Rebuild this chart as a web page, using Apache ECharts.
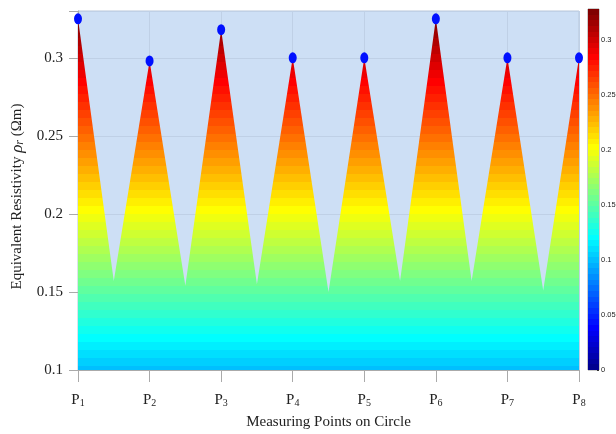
<!DOCTYPE html>
<html>
<head>
<meta charset="utf-8">
<script src="https://cdn.jsdelivr.net/npm/echarts@6/dist/echarts.min.js"></script>
<style>
  html, body { margin: 0; padding: 0; background: #fff; }
  #chart { width: 616px; height: 434px; }
</style>
</head>
<body>
<div id="chart"></div>
<script>
// measuring points P1..P8 (x = 1..8), valleys sit half way between them
var pointNames = ['1', '2', '3', '4', '5', '6', '7', '8'];
var peakValues = [0.325, 0.298, 0.318, 0.300, 0.300, 0.325, 0.300, 0.300];
var valleyValues = [0.157, 0.154, 0.155, 0.150, 0.157, 0.157, 0.151];
var yTicks = [0.1, 0.15, 0.2, 0.25, 0.3];
var colorbarTicks = [0, 0.05, 0.1, 0.15, 0.2, 0.25, 0.3];
var yMin = 0.1, yMax = 0.33;
var cMin = 0, cMax = 0.328;

// MATLAB style jet(64)
function jet(n) {
    var q = Math.ceil(n / 4), u = [], i;
    for (i = 1; i <= q; i++) u.push(i / q);
    for (i = 1; i < q; i++) u.push(1);
    for (i = q; i >= 1; i--) u.push(i / q);
    var g0 = Math.ceil(q / 2) - (n % 4 == 1 ? 1 : 0);
    var out = [];
    for (i = 0; i < n; i++) out.push([0, 0, 0]);
    for (var k = 0; k < u.length; k++) {
        var g = g0 + k + 1, r = g + q, b = g - q;
        if (r >= 1 && r <= n) out[r - 1][0] = u[k];
        if (g >= 1 && g <= n) out[g - 1][1] = u[k];
        if (b >= 1 && b <= n) out[b - 1][2] = u[k];
    }
    return out.map(function (c) {
        return 'rgb(' + Math.round(c[0] * 255) + ',' + Math.round(c[1] * 255) + ',' + Math.round(c[2] * 255) + ')';
    });
}
var jetColors = jet(64);

// line data: peak, valley, peak ...
var lineData = [];
for (var i = 0; i < peakValues.length; i++) {
    lineData.push([i + 1, peakValues[i]]);
    if (i < valleyValues.length) lineData.push([i + 1.5, valleyValues[i]]);
}
var peakData = peakValues.map(function (v, i) { return [i + 1, v]; });

// stepped gradient for the area: offset 0 = highest peak, 1 = axis min
var areaTop = Math.max.apply(null, peakValues);
var areaStops = [];
var step = (cMax - cMin) / jetColors.length;
for (var j = jetColors.length - 1; j >= 0; j--) {
    var hi = cMin + (j + 1) * step, lo = cMin + j * step;
    if (lo > areaTop || hi < yMin) continue;
    var o1 = Math.max(0, (areaTop - Math.min(hi, areaTop)) / (areaTop - yMin));
    var o2 = Math.min(1, (areaTop - Math.max(lo, yMin)) / (areaTop - yMin));
    areaStops.push({ offset: o1, color: jetColors[j] });
    areaStops.push({ offset: o2, color: jetColors[j] });
}

// stepped gradient for the colour bar, bottom to top
var barStops = [];
jetColors.forEach(function (c, k) {
    barStops.push({ offset: k / jetColors.length, color: c });
    barStops.push({ offset: (k + 1) / jetColors.length, color: c });
});

var serif = '"Liberation Serif", "Times New Roman", serif';
var chart = echarts.init(document.getElementById('chart'));

chart.setOption({
    animation: false,
    grid: [
        { left: 78, right: 37, top: 11, bottom: 64, outerBoundsMode: 'none', containLabel: false,
          show: true, backgroundColor: '#cddff5', borderColor: '#b9c6d8', borderWidth: 1 },
        { left: 588, width: 11, top: 9, bottom: 64, outerBoundsMode: 'none', containLabel: false,
          show: true, borderColor: '#333', borderWidth: 0.5 }
    ],
    xAxis: [{
        gridIndex: 0,
        type: 'value',
        min: 1, max: 8, interval: 1,
        name: 'Measuring Points on Circle',
        nameLocation: 'middle',
        nameGap: 45,
        nameTextStyle: { fontFamily: serif, fontSize: 15, color: '#222' },
        axisLine: { show: true, lineStyle: { color: '#aaa' } },
        axisTick: { show: true, length: 12, lineStyle: { color: '#aaa' } },
        splitLine: { show: true, lineStyle: { color: '#bfd0e6' } },
        axisLabel: {
            margin: 22,
            formatter: function (v) { return '{p|P}{s|' + pointNames[v - 1] + '}'; },
            rich: {
                p: { fontFamily: serif, fontSize: 15, color: '#222', verticalAlign: 'bottom', lineHeight: 16 },
                s: { fontFamily: serif, fontSize: 10, color: '#222', verticalAlign: 'bottom', lineHeight: 13 }
            }
        }
    }, {
        gridIndex: 1,
        type: 'category',
        data: ['c'],
        show: false
    }],
    yAxis: [{
        gridIndex: 0,
        type: 'value',
        min: yMin, max: yMax, interval: 0.05,
        name: 'Equivalent Resistivity {rho|ρ}{r|r} (Ωm)',
        nameLocation: 'middle',
        nameGap: 52,
        nameTextStyle: {
            fontFamily: serif, fontSize: 15, color: '#222',
            padding: [0, 12, 0, 0],
            rich: {
                rho: { fontFamily: serif, fontSize: 17, fontStyle: 'italic', color: '#222' },
                r: { fontFamily: serif, fontSize: 12, fontStyle: 'italic', color: '#222', verticalAlign: 'bottom' }
            }
        },
        axisLine: { show: true, lineStyle: { color: '#aaa' } },
        axisTick: { show: true, length: 9, lineStyle: { color: '#aaa' } },
        splitLine: { show: true, lineStyle: { color: '#bfd0e6' } },
        axisLabel: {
            margin: 15,
            fontFamily: serif, fontSize: 15, color: '#222',
            formatter: function (v) {
                var t = yTicks.filter(function (y) { return Math.abs(y - v) < 1e-9; });
                return t.length && v < yMax - 1e-9 ? String(t[0]) : '';
            }
        }
    }, {
        gridIndex: 1,
        type: 'value',
        min: cMin, max: cMax, interval: 0.05,
        position: 'right',
        axisLine: { show: false },
        axisTick: { show: true, inside: true, length: 2, lineStyle: { color: '#333' } },
        splitLine: { show: false },
        axisLabel: {
            margin: 2,
            fontFamily: '"Liberation Sans Narrow", "Liberation Sans", Arial, sans-serif', fontSize: 7.5, color: '#222',
            formatter: function (v) {
                var t = colorbarTicks.filter(function (y) { return Math.abs(y - v) < 1e-9; });
                return t.length ? String(t[0]) : '';
            }
        }
    }],
    series: [{
        type: 'line',
        xAxisIndex: 0, yAxisIndex: 0,
        data: lineData,
        showSymbol: false,
        lineStyle: { width: 0 },
        areaStyle: {
            opacity: 1,
            color: new echarts.graphic.LinearGradient(0, 0, 0, 1, areaStops)
        },
        z: 2
    }, {
        type: 'scatter',
        xAxisIndex: 0, yAxisIndex: 0,
        data: peakData,
        symbol: 'circle',
        symbolSize: [8, 11],
        itemStyle: { color: '#0010ff', opacity: 1 },
        clip: false,
        z: 5
    }, {
        type: 'bar',
        xAxisIndex: 1, yAxisIndex: 1,
        data: [cMax],
        barWidth: '100%',
        itemStyle: { color: new echarts.graphic.LinearGradient(0, 1, 0, 0, barStops) }
    }]
});
</script>
</body>
</html>
